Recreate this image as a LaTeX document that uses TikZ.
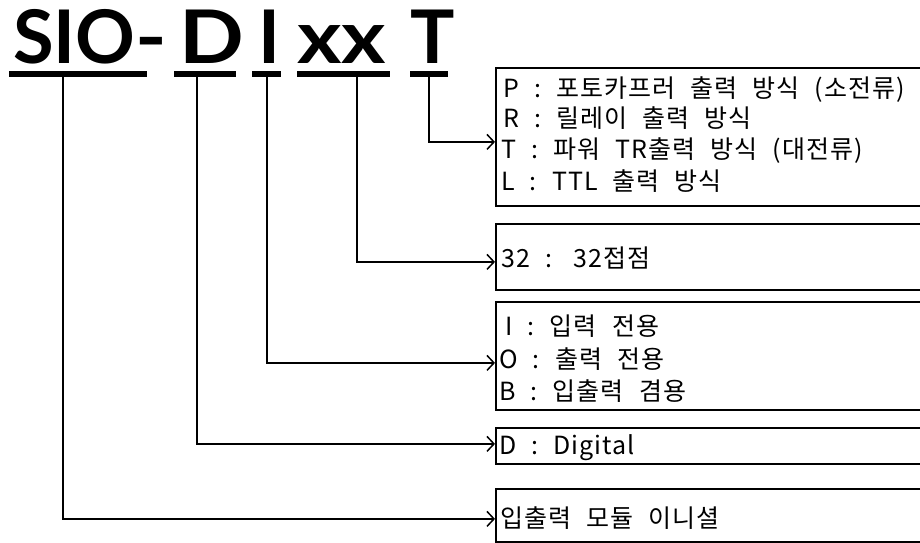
\documentclass[tikz,border=0pt]{standalone}
\usepackage{fontspec}
\usetikzlibrary{arrows.meta}
\newfontfamily\kr[WordSpace=2.3,LetterSpace=4]{Noto Sans CJK KR}
\newfontfamily\ttl{Lato}
\newfontfamily\ttlw[FakeStretch=1.15]{Lato}
\begin{document}
\begin{tikzpicture}[x=1pt,y=-1pt,
  ttlstyle/.style={font=\ttl\bfseries\fontsize{74}{74}\selectfont, inner sep=0pt, anchor=base west},
  ttlwide/.style={font=\ttlw\bfseries\fontsize{74}{74}\selectfont, inner sep=0pt, anchor=base west},
  uline/.style={line width=6pt},
  conn/.style={line width=1.5pt, -{Straight Barb[length=7pt,width=15pt,line width=1.5pt]}},
  boxstyle/.style={draw, line width=1.8pt, anchor=north west, minimum width=450pt, inner sep=0pt},
  txt/.style={font=\kr\fontsize{25}{25}\selectfont, inner sep=0pt, anchor=base west}]
\useasboundingbox (0,0) rectangle (920,542);
\clip (0,0) rectangle (920,542);
% title
\node[ttlstyle] (sio) at (13,63) {SIO};
\node[ttlwide] (dash) at (135,63) {-};
\node[ttlwide] (dd) at (179,63) {D};
\node[ttlstyle] (ii) at (258,63) {I};
\node[ttlwide] (xx) at (297,63) {xx};
\node[ttlstyle] (tt) at (410,63) {T};
% underlines
\draw[uline] (9,73.5) -- (147,73.5);
\draw[uline] (174,73.5) -- (236,73.5);
\draw[uline] (252,73.5) -- (281,73.5);
\draw[uline] (297,73.5) -- (390,73.5);
\draw[uline] (410,73.5) -- (448,73.5);
\coordinate (cSIO) at (63,76);
\coordinate (cD) at (197,76);
\coordinate (cI) at (267,76);
\coordinate (cX) at (357,76);
\coordinate (cT) at (429,76);
% boxes
\node[boxstyle, minimum height=138pt] (b1) at (495,67) {};
\node[boxstyle, minimum height=66pt] (b2) at (495,223) {};
\node[boxstyle, minimum height=108pt] (b3) at (495,301) {};
\node[boxstyle, minimum height=36pt] (b4) at (495,427) {};
\node[boxstyle, minimum height=53pt] (b5) at (495,488) {};
% texts
\node[txt] (p1) at (503,97) {P : 포토카프러 출력 방식 (소전류)};
\node[txt] (p2) at (503,127) {R : 릴레이 출력 방식};
\node[txt] (p3) at (501,158) {T : 파워 TR출력 방식 (대전류)};
\node[txt] (p4) at (501,190) {L : TTL 출력 방식};
\node[txt] (q1) at (501,267) {32 :\, 32접점};
\node[txt] (r1) at (505,335) {I : 입력 전용};
\node[txt] (r2) at (499,368) {O : 출력 전용};
\node[txt] (r3) at (499,400) {B : 입출력 겸용};
\node[txt] (s1) at (499,454) {D : Digital};
\node[txt] (u1) at (500,527) {입출력 모듈 이니셜};
% connectors
\draw[conn] (cT) |- ([yshift=-5pt]b1.west);
\draw[conn] (cX) |- ([yshift=-5pt]b2.west);
\draw[conn] (cI) |- ([yshift=-7pt]b3.west);
\draw[conn] (cD) |- ([yshift=2pt]b4.west);
\draw[conn] (cSIO) |- ([yshift=-3.5pt]b5.west);
\end{tikzpicture}
\end{document}
